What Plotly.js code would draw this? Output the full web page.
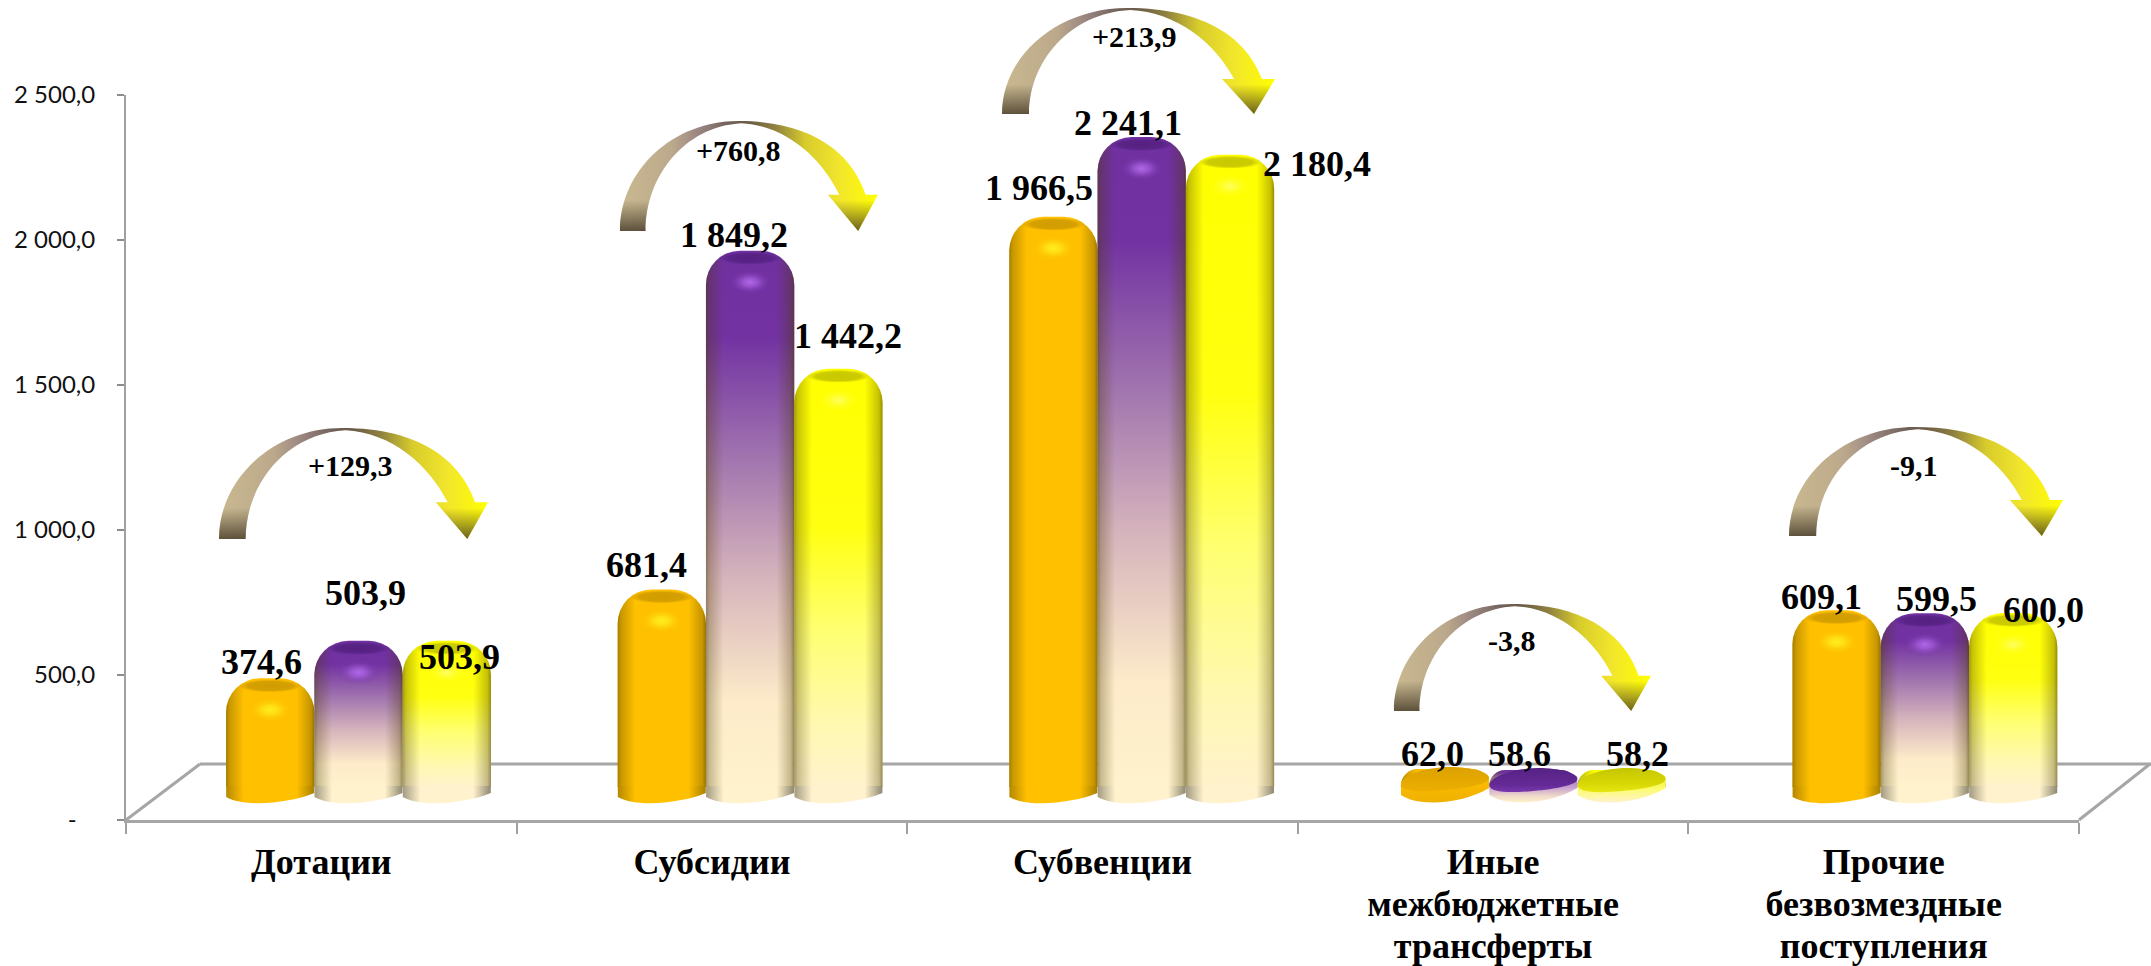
<!DOCTYPE html>
<html><head><meta charset="utf-8">
<script src="https://cdn.plot.ly/plotly-3.0.1.min.js"></script>
<style>html,body{margin:0;padding:0;background:#fff}#c{width:2151px;height:966px}</style>
</head><body><div id="c"></div>
<script>
// ---------- data ----------
const categories = ['Дотации','Субсидии','Субвенции','Иные<br>межбюджетные<br>трансферты','Прочие<br>безвозмездные<br>поступления'];
const seriesA = [374.6, 681.4, 1966.5, 62.0, 609.1];
const seriesB = [503.9, 1849.2, 2241.1, 58.6, 599.5];
const seriesC = [503.9, 1442.2, 2180.4, 58.2, 600.0];
const seriesLabels = [
  ['374,6','681,4','1 966,5','62,0','609,1'],
  ['503,9','1 849,2','2 241,1','58,6','599,5'],
  ['503,9','1 442,2','2 180,4','58,2','600,0']];
const changeLabels = ['+129,3','+760,8','+213,9','-3,8','-9,1'];
const yTickVals = [0,500,1000,1500,2000,2500];
const yTickText = ['-\u00a0\u00a0\u00a0','500,0','1 000,0','1 500,0','2 000,0','2 500,0'];

// ---------- layout helpers ----------
const W=2151,H=966;
const fx=x=>x/W, fy=y=>1-y/H;
const BW=0.2255;
const series=[seriesA,seriesB,seriesC];
// label placement relative to top-centre of each bar [dx,dy] px
const nudge=[
 [[-9,16],[-15,24],[-14,29],[-12,15],[-15,13]],
 [[6.5,48],[-16,16],[-14,14],[-14,16],[12,14]],
 [[13,-16],[10,33],[87,-9],[16,16],[30,3]]];
// curved arrow boxes: left, right, top, bottom
const arrowBox=[[219,488,428,539],[620,878,121,231],[1002,1275,8,114],[1394,1651,604,711],[1789,2063,427,536]];
const changePos=[[350,465],[738,151],[1134,37],[1512,640],[1914,465]];

const shapes=[],shapeFill=[];
function add(s,f){shapes.push(s);shapeFill.push(f||null);}
const floorCol='#a6a6a6';
[[[126,820],[200,764]],[[200,764],[2151,764]],[[2079,820],[2150,764]]].forEach(p=>{
  add({type:'line',xref:'paper',yref:'paper',x0:fx(p[0][0]),y0:fy(p[0][1]),x1:fx(p[1][0]),y1:fy(p[1][1]),
       line:{color:floorCol,width:3},layer:'below'});
});
const capCol=['capO','capP','capY'], hiCol=['hiO','hiP','hiY'], botCol=['botO','botC','botC'], discCol=['discO','discP','discY'], rimCol=['rimO','rimP','rimY'];
const px={type:'path',layer:'above',xref:'x2',yref:'y2',xsizemode:'pixel',ysizemode:'pixel',fillcolor:'#ccc',line:{width:0}};
series.forEach((vals,s)=>{
  vals.forEach((v,i)=>{
    const xa=i+(s-1)*BW, short=v<100;
    add(Object.assign({},px,{xanchor:xa,yanchor:0,
      path:short?'M -44,3 C -30,12 30,20 44,10 L 44,-1 C 20,-16 -25,-21 -44,-8 Z':'M -44,1 L -44,-10 C -25,-21 20,-16 44,-6 L 44,1 Z'}),short?rimCol[s]:botCol[s]);
    if(short){
      add(Object.assign({},px,{xanchor:xa,yanchor:v,
        path:'M -44,-15 C -44,-7 -20,2 5,2 C 27,2 44,-3 44,-9 C 44,-15 22,-19 0,-21 C -22,-23 -44,-23 -44,-15 Z'}),discCol[s]);
    }else{
      add({type:'circle',layer:'above',xref:'x2',yref:'y2',xsizemode:'pixel',ysizemode:'pixel',xanchor:xa,yanchor:v,
        x0:-32,x1:32,y0:-1,y1:-14,fillcolor:'#ccc',line:{width:0}},capCol[s]);
      add({type:'circle',layer:'above',xref:'x2',yref:'y2',xsizemode:'pixel',ysizemode:'pixel',xanchor:xa,yanchor:v,
        x0:-22,x1:22,y0:-19,y1:-44,fillcolor:'#ccc',line:{width:0}},hiCol[s]);
    }
  });
});
function arrowPath(b){
  const X=u=>fx(b[0]+u*(b[1]-b[0])).toFixed(5), Y=v=>fy(b[2]+v*(b[3]-b[2])).toFixed(5), P=(u,v)=>X(u)+','+Y(v);
  return 'M '+P(0,1)+' C '+P(0,.448)+' '+P(.205,0)+' '+P(.458,0)
    +' C '+P(.75,0)+' '+P(.9,.3)+' '+P(.952,.67)+' L '+P(1,.67)+' L '+P(.923,1)+' L '+P(.806,.67)+' L '+P(.85,.67)
    +' C '+P(.78,.33)+' '+P(.64,.04)+' '+P(.47,.02)+' C '+P(.25,.05)+' '+P(.1,.5)+' '+P(.099,1)+' Z';
}
arrowBox.forEach(b=>{
  add({type:'path',layer:'above',xref:'paper',yref:'paper',path:arrowPath(b),fillcolor:'#c4b48c',line:{width:0}},'arrowH');
  add({type:'path',layer:'above',xref:'paper',yref:'paper',path:arrowPath(b),fillcolor:'#c4b48c',line:{width:0}},'arrowV');
});

// ---------- traces ----------
const traces=[{type:'scatter',x:categories,y:categories.map(()=>0),mode:'markers',marker:{opacity:0,size:1},xaxis:'x',yaxis:'y',showlegend:false,hoverinfo:'skip'}];
const baseCol=['#ffc000','#7030a0','#ffff00'];
const radius=34;
series.forEach((vals,s)=>traces.push({type:'bar',x:categories,y:vals,xaxis:'x2',yaxis:'y2',
   width:BW,offset:(s-1)*BW-BW/2,marker:{color:baseCol[s],line:{width:0},cornerradius:radius},showlegend:false,hoverinfo:'skip'}));
series.forEach((vals,s)=>traces.push({type:'bar',x:categories,y:vals,xaxis:'x2',yaxis:'y2',
   width:BW,offset:(s-1)*BW-BW/2,marker:{color:'#888',line:{width:0},cornerradius:radius},showlegend:false,hoverinfo:'skip'}));

// ---------- annotations ----------
const serif='"Liberation Serif","Times New Roman",serif';
const annotations=[];
series.forEach((vals,s)=>vals.forEach((v,i)=>annotations.push({
  xref:'x2',yref:'y2',x:i+(s-1)*BW,y:v,xshift:nudge[s][i][0],yshift:nudge[s][i][1],text:seriesLabels[s][i],showarrow:false,
  xanchor:'center',yanchor:'middle',font:{family:serif,size:36,color:'#000',weight:'bold'}})));
changeLabels.forEach((t,i)=>annotations.push({xref:'paper',yref:'paper',x:fx(changePos[i][0]),y:fy(changePos[i][1]),text:t,showarrow:false,
  xanchor:'center',yanchor:'middle',font:{family:serif,size:30,color:'#000',weight:'bold'}}));

const layout={
  width:W,height:H,margin:{l:0,r:0,t:0,b:0},paper_bgcolor:'#fff',plot_bgcolor:'rgba(0,0,0,0)',
  barmode:'overlay',hovermode:false,showlegend:false,shapes,annotations,
  xaxis:{type:'category',categoryorder:'array',categoryarray:categories,domain:[fx(126),fx(2079)],range:[-0.5,4.5],anchor:'y',
    tickson:'boundaries',ticks:'outside',ticklen:11,tickwidth:2,tickcolor:'#a0a0a0',showline:true,linecolor:'#a6a6a6',linewidth:3,showgrid:false,zeroline:false,
    tickangle:0,tickfont:{family:serif,size:36,color:'#000',weight:'bold'},fixedrange:true,automargin:false,ticklabelstandoff:8},
  yaxis:{domain:[fy(820),fy(95)],range:[0,2500],anchor:'x',tickmode:'array',tickvals:yTickVals,ticktext:yTickText,ticks:'outside',ticklen:7,tickwidth:2,tickcolor:'#8c8c8c',
    showline:true,linecolor:'#a0a0a0',linewidth:2,showgrid:false,zeroline:false,tickfont:{family:'Lato,"Open Sans",sans-serif',size:24,color:'#111'},fixedrange:true,automargin:false,ticklabelstandoff:17},
  xaxis2:{type:'category',categoryorder:'array',categoryarray:categories,anchor:'y2',domain:[fx(162.7),fx(2120.7)],range:[-0.5,4.5],visible:false,fixedrange:true},
  yaxis2:{anchor:'x2',domain:[fy(816),fy(62)],range:[-100,2500],visible:false,fixedrange:true}
};

// ---------- fills (gradients on library-drawn marks) ----------
const NS='http://www.w3.org/2000/svg';
function lin(id,x2,y2,stops){return {tag:'linearGradient',id,attrs:{x1:0,y1:0,x2,y2},stops};}
function rad(id,stops){return {tag:'radialGradient',id,attrs:{cx:.5,cy:.5,r:.5},stops};}
const sh='#4a3a00';
const gradients=[
  lin('vO',0,1,[[0,'#ffc000'],[1,'#ffc000']]),
  lin('vP',0,1,[[0,'#7030a0'],[.16,'#7232a2'],[.41,'#a67bb0'],[.61,'#d6b4bc'],[.84,'#fdebc9'],[1,'#fff2cc']]),
  lin('vY',0,1,[[0,'#ffff00'],[.38,'#ffff10'],[.62,'#ffff70'],[.85,'#fff8b0'],[1,'#fff2cc']]),
  lin('edge',1,0,[[0,sh,.5],[.04,sh,.3],[.2,sh,0],[.8,sh,0],[.96,sh,.32],[1,sh,.58]]),
  lin('botO',1,0,[[0,'#b58800'],[.2,'#ffc000'],[.8,'#ffc000'],[1,'#a88000']]),
  lin('botC',1,0,[[0,'#a39a80'],[.2,'#fff2cc'],[.8,'#fff2cc'],[1,'#8f8870']]),
  lin('rimO',0,1,[[0,'#ffc000'],[1,'#f0b000']]),
  lin('rimP',0,1,[[0,'#8a50c0'],[.5,'#c8a0d0'],[.8,'#f0dcc8'],[1,'#fff2cc']]),
  lin('rimY',0,1,[[0,'#f0f020'],[.55,'#fcfc70'],[1,'#fff2cc']]),
  rad('capO',[[0,'#d09c00'],[.7,'#d6a000'],[1,'#d6a000',0]]),
  rad('capP',[[0,'#552080'],[.7,'#5a2488'],[1,'#5a2488',0]]),
  rad('capY',[[0,'#c8c800'],[.7,'#cccc00'],[1,'#cccc00',0]]),
  lin('discO',0,1,[[0,'#dca200'],[1,'#ecae00']]),
  lin('discP',0,1,[[0,'#562284'],[.7,'#642a96'],[1,'#7838ac']]),
  lin('discY',0,1,[[0,'#c6c600'],[.6,'#d6d604'],[1,'#e6e610']]),
  rad('hiO',[[0,'#ffee20',1],[.35,'#ffe818',.75],[1,'#ffc000',0]]),
  rad('hiP',[[0,'#b068e8',1],[.35,'#a45cdc',.75],[1,'#7030a0',0]]),
  rad('hiY',[[0,'#ffff80',.8],[1,'#ffff00',0]]),
  lin('arrowH',1,0,[[0,'#c9b98f'],[.2,'#bca98c'],[.3,'#9c8882'],[.43,'#6f5f58'],[.5,'#6a5c46'],[.6,'#8e8040'],[.72,'#d8cc2c'],[.85,'#f2e62c'],[1,'#ffff00']]),
  lin('arrowV',0,1,[[0,'#3a3020',0],[.72,'#3a3020',0],[1,'#3a3020',.75]])
];
function ensureDefs(gd){
  const svg=gd.querySelector('svg.main-svg');
  if(document.getElementById('vO'))return;
  const defs=document.createElementNS(NS,'defs');
  gradients.forEach(g=>{
    const e=document.createElementNS(NS,g.tag);e.setAttribute('id',g.id);
    Object.keys(g.attrs).forEach(k=>e.setAttribute(k,g.attrs[k]));
    g.stops.forEach(st=>{const o=document.createElementNS(NS,'stop');o.setAttribute('offset',st[0]);o.setAttribute('stop-color',st[1]);
      if(st[2]!==undefined)o.setAttribute('stop-opacity',st[2]);e.appendChild(o);});
    defs.appendChild(e);
  });
  svg.insertBefore(defs,svg.firstChild);
}
function paint(gd){
  ensureDefs(gd);
  const ids=['vO','vP','vY','edge','edge','edge'];
  gd.querySelectorAll('.barlayer .trace.bars').forEach((tr,k)=>{
    tr.querySelectorAll('.point path').forEach(p=>{p.style.fill='url(#'+ids[k]+')';p.style.fillOpacity=1;});
  });
  shapeFill.forEach((f,k)=>{
    if(!f)return;
    gd.querySelectorAll('.shapelayer path[data-index="'+k+'"]').forEach(p=>{p.style.fill='url(#'+f+')';p.style.fillOpacity=1;});
  });
  gd.querySelectorAll('.xtick text').forEach(t=>{
    t.querySelectorAll('tspan.line').forEach((l,n)=>l.setAttribute('dy',(n*1.16)+'em'));
  });
}
const gd=document.getElementById('c');
Plotly.newPlot(gd,traces,layout,{displayModeBar:false,responsive:false}).then(()=>{paint(gd);gd.on('plotly_afterplot',()=>paint(gd));});
</script></body></html>
